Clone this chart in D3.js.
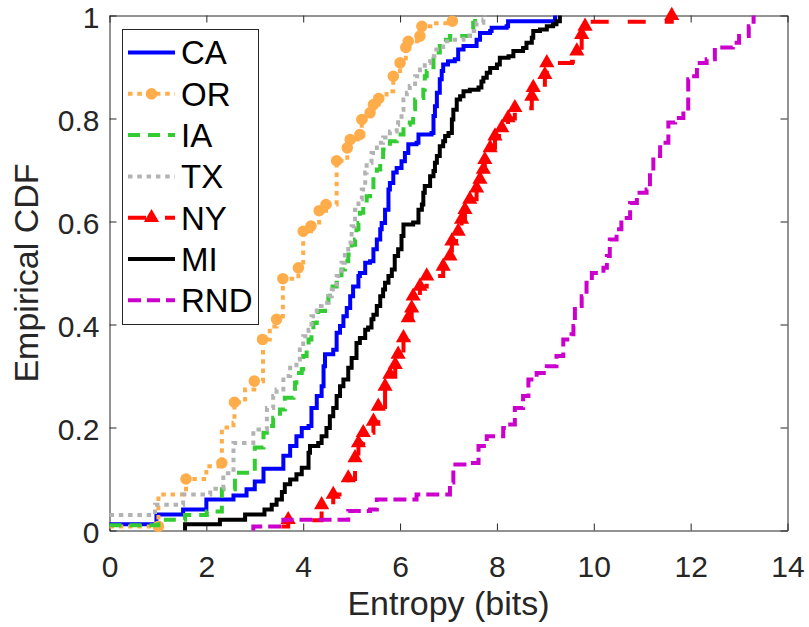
<!DOCTYPE html>
<html>
<head>
<meta charset="utf-8">
<script src="https://cdn.jsdelivr.net/npm/d3@7"></script>
<style>
  html, body { margin: 0; padding: 0; background: #ffffff; }
  svg { display: block; }
  text { font-family: "Liberation Sans", Arial, Helvetica, sans-serif; }
</style>
</head>
<body>
<svg id="chart" width="809" height="627"></svg>
<script>
// ---------------- data ----------------
const seriesNames = ["CA", "OR", "IA", "TX", "NY", "MI", "RND"];
const xTicks = [0, 2, 4, 6, 8, 10, 12, 14];
const xTickLabels = ["0", "2", "4", "6", "8", "10", "12", "14"];
const yTicks = [0, 0.2, 0.4, 0.6, 0.8, 1];
const yTickLabels = ["0", "0.2", "0.4", "0.6", "0.8", "1"];
const xLabel = "Entropy (bits)";
const yLabel = "Empirical CDF";

const caX = [0, 0.97, 0.97, 1.52, 1.52, 2.0, 2.0, 2.56, 2.56, 2.83, 3.0, 3.18, 3.59, 3.59, 3.73, 3.86, 3.97, 4.11, 4.17, 4.28, 4.38, 4.42, 4.45, 4.62, 4.69, 4.76, 4.83, 4.90, 4.97, 5.03, 5.14, 5.17, 5.28, 5.38, 5.45, 5.52, 5.59, 5.62, 5.69, 5.76, 5.76, 5.79, 5.86, 5.93, 6.03, 6.10, 6.17, 6.34, 6.38, 6.65, 6.69, 6.72, 6.76, 6.82, 6.86, 6.89, 6.99, 7.13, 7.20, 7.31, 7.51, 7.58, 7.65, 7.86, 7.89, 8.20, 8.23, 9.16, 9.20];
const caY = [0.012, 0.012, 0.031, 0.031, 0.041, 0.041, 0.06, 0.06, 0.068, 0.08, 0.095, 0.12, 0.122, 0.145, 0.164, 0.183, 0.199, 0.203, 0.238, 0.261, 0.280, 0.319, 0.342, 0.351, 0.384, 0.397, 0.416, 0.432, 0.455, 0.474, 0.494, 0.500, 0.520, 0.523, 0.546, 0.565, 0.585, 0.597, 0.623, 0.643, 0.662, 0.675, 0.695, 0.704, 0.717, 0.733, 0.750, 0.753, 0.769, 0.772, 0.805, 0.824, 0.850, 0.876, 0.892, 0.905, 0.911, 0.915, 0.934, 0.941, 0.941, 0.953, 0.966, 0.970, 0.976, 0.979, 0.989, 0.989, 1.0];

const orX = [0, 1.01, 1.01, 1.58, 1.58, 2.0, 2.0, 2.32, 2.32, 2.56, 2.58, 2.80, 2.99, 3.17, 3.17, 3.31, 3.45, 3.58, 3.58, 3.90, 4.00, 4.16, 4.33, 4.47, 4.69, 4.69, 4.91, 4.97, 5.17, 5.21, 5.38, 5.45, 5.56, 5.72, 5.86, 6.00, 6.12, 6.17, 6.41, 6.45, 6.70, 7.08, 7.10];
const orY = [0.008, 0.008, 0.07, 0.07, 0.10, 0.107, 0.125, 0.131, 0.20, 0.209, 0.249, 0.274, 0.29, 0.31, 0.371, 0.396, 0.41, 0.43, 0.489, 0.51, 0.581, 0.591, 0.621, 0.633, 0.655, 0.718, 0.743, 0.759, 0.769, 0.798, 0.811, 0.827, 0.839, 0.853, 0.882, 0.908, 0.938, 0.95, 0.96, 0.979, 0.985, 0.989, 1.0];
const orMarkX = [1.01, 1.58, 2.32, 2.58, 2.99, 3.16, 3.45, 3.58, 3.90, 4.00, 4.16, 4.33, 4.47, 4.69, 4.91, 4.97, 5.17, 5.21, 5.38, 5.45, 5.56, 5.86, 6.00, 6.12, 6.17, 6.41, 6.45, 7.08];
const orMarkY = [0.008, 0.10, 0.131, 0.249, 0.29, 0.371, 0.41, 0.489, 0.51, 0.581, 0.591, 0.621, 0.633, 0.718, 0.743, 0.759, 0.769, 0.798, 0.811, 0.827, 0.839, 0.882, 0.908, 0.938, 0.95, 0.96, 0.979, 0.989];

const iaX = [0, 1.01, 1.01, 1.56, 1.56, 2.01, 2.01, 2.32, 2.32, 2.59, 2.59, 3.0, 3.0, 3.18, 3.31, 3.38, 3.52, 3.62, 3.80, 3.83, 3.86, 3.97, 4.00, 4.07, 4.11, 4.17, 4.21, 4.28, 4.31, 4.45, 4.52, 4.55, 4.69, 4.76, 4.79, 4.86, 4.93, 5.00, 5.07, 5.10, 5.14, 5.17, 5.24, 5.31, 5.38, 5.45, 5.52, 5.59, 5.65, 5.79, 5.93, 6.07, 6.20, 6.27, 6.31, 6.45, 6.48, 6.51, 6.55, 6.69, 6.75, 6.82, 6.89, 7.03, 7.37, 7.44, 7.51, 7.55];
const iaY = [0.01, 0.01, 0.021, 0.021, 0.03, 0.03, 0.037, 0.037, 0.08, 0.08, 0.112, 0.112, 0.161, 0.19, 0.203, 0.219, 0.235, 0.258, 0.264, 0.287, 0.306, 0.313, 0.339, 0.358, 0.371, 0.384, 0.403, 0.416, 0.426, 0.436, 0.455, 0.474, 0.481, 0.487, 0.507, 0.523, 0.536, 0.555, 0.565, 0.585, 0.597, 0.617, 0.636, 0.649, 0.662, 0.688, 0.701, 0.720, 0.740, 0.756, 0.769, 0.788, 0.792, 0.818, 0.837, 0.840, 0.856, 0.882, 0.892, 0.915, 0.928, 0.941, 0.953, 0.960, 0.960, 0.970, 0.986, 1.0];

const txX = [0, 0.94, 0.94, 1.52, 1.52, 2.08, 2.08, 2.35, 2.35, 2.56, 2.56, 2.97, 2.97, 3.18, 3.25, 3.38, 3.45, 3.59, 3.73, 3.86, 3.93, 4.00, 4.11, 4.17, 4.28, 4.38, 4.52, 4.59, 4.69, 4.79, 4.86, 4.93, 5.00, 5.07, 5.14, 5.21, 5.28, 5.31, 5.41, 5.52, 5.65, 5.79, 5.93, 5.96, 6.03, 6.07, 6.14, 6.20, 6.31, 6.41, 6.51, 6.62, 6.75, 6.89, 7.03, 7.31, 7.44, 7.58, 7.72, 7.75];
const txY = [0.03, 0.03, 0.05, 0.05, 0.07, 0.07, 0.081, 0.081, 0.111, 0.111, 0.17, 0.17, 0.196, 0.196, 0.238, 0.261, 0.274, 0.300, 0.316, 0.332, 0.358, 0.377, 0.390, 0.416, 0.436, 0.442, 0.455, 0.468, 0.494, 0.520, 0.539, 0.559, 0.591, 0.623, 0.643, 0.662, 0.695, 0.714, 0.733, 0.753, 0.763, 0.775, 0.788, 0.798, 0.817, 0.837, 0.850, 0.863, 0.882, 0.895, 0.908, 0.921, 0.934, 0.950, 0.953, 0.960, 0.970, 0.986, 0.992, 1.0];

const nyX = [3.55, 3.69, 4.30, 4.38, 4.62, 4.93, 5.07, 5.14, 5.24, 5.45, 5.55, 5.69, 5.79, 5.90, 5.96, 6.07, 6.17, 6.24, 6.27, 6.41, 6.55, 6.89, 7.03, 7.07, 7.20, 7.27, 7.34, 7.44, 7.58, 7.65, 7.72, 7.75, 7.86, 7.96, 8.10, 8.23, 8.37, 8.72, 8.75, 8.99, 9.03, 9.55, 9.65, 9.75, 9.82, 9.85, 11.58, 11.61];
const nyY = [0.008, 0.02, 0.02, 0.05, 0.07, 0.10, 0.14, 0.17, 0.19, 0.21, 0.24, 0.28, 0.30, 0.32, 0.34, 0.37, 0.41, 0.43, 0.455, 0.474, 0.494, 0.513, 0.533, 0.562, 0.581, 0.604, 0.623, 0.643, 0.665, 0.682, 0.701, 0.72, 0.743, 0.766, 0.782, 0.80, 0.82, 0.843, 0.86, 0.885, 0.908, 0.91, 0.93, 0.963, 0.979, 0.988, 0.988, 1.0];
const nyMarkX = [3.69, 4.38, 4.62, 4.93, 5.07, 5.14, 5.24, 5.45, 5.55, 5.69, 5.79, 5.90, 5.96, 6.07, 6.17, 6.24, 6.27, 6.41, 6.55, 6.89, 7.03, 7.07, 7.20, 7.27, 7.34, 7.44, 7.58, 7.65, 7.72, 7.75, 7.86, 7.96, 8.10, 8.23, 8.37, 8.72, 8.75, 8.99, 9.03, 9.65, 9.75, 9.82, 11.61];
const nyMarkY = [0.021, 0.05, 0.07, 0.102, 0.141, 0.17, 0.19, 0.212, 0.241, 0.28, 0.303, 0.322, 0.342, 0.374, 0.413, 0.432, 0.455, 0.474, 0.494, 0.513, 0.533, 0.562, 0.581, 0.604, 0.623, 0.643, 0.665, 0.682, 0.701, 0.72, 0.743, 0.766, 0.782, 0.801, 0.821, 0.843, 0.86, 0.885, 0.908, 0.931, 0.963, 0.979, 1.0];

const miX = [1.56, 1.56, 2.28, 2.28, 2.80, 2.80, 3.20, 3.20, 3.35, 3.45, 3.56, 3.62, 3.73, 3.86, 3.97, 4.11, 4.14, 4.31, 4.38, 4.48, 4.55, 4.62, 4.69, 4.76, 4.83, 4.93, 5.00, 5.10, 5.17, 5.28, 5.34, 5.41, 5.45, 5.52, 5.59, 5.65, 5.69, 5.76, 5.83, 5.89, 5.96, 6.03, 6.07, 6.27, 6.38, 6.45, 6.48, 6.51, 6.62, 6.69, 6.72, 6.76, 6.82, 6.89, 6.93, 7.00, 7.07, 7.10, 7.17, 7.24, 7.31, 7.44, 7.62, 7.68, 7.72, 7.79, 7.86, 8.00, 8.06, 8.24, 8.34, 8.54, 8.61, 8.72, 8.75, 8.89, 9.03, 9.16, 9.23, 9.30];
const miY = [0, 0.012, 0.012, 0.021, 0.021, 0.031, 0.031, 0.041, 0.05, 0.06, 0.075, 0.09, 0.099, 0.109, 0.122, 0.151, 0.164, 0.170, 0.183, 0.199, 0.222, 0.238, 0.261, 0.280, 0.293, 0.316, 0.335, 0.364, 0.374, 0.390, 0.394, 0.410, 0.419, 0.436, 0.455, 0.468, 0.481, 0.494, 0.507, 0.533, 0.546, 0.572, 0.594, 0.598, 0.623, 0.633, 0.656, 0.669, 0.688, 0.698, 0.714, 0.727, 0.746, 0.756, 0.766, 0.772, 0.798, 0.817, 0.837, 0.843, 0.853, 0.856, 0.860, 0.872, 0.879, 0.889, 0.898, 0.905, 0.918, 0.921, 0.931, 0.937, 0.947, 0.957, 0.970, 0.973, 0.979, 0.983, 0.989, 1.0];

const rndX = [2.97, 2.97, 3.59, 3.59, 4.69, 4.93, 5.38, 5.52, 6.27, 6.34, 6.86, 7.03, 7.10, 7.44, 7.62, 7.79, 8.13, 8.23, 8.37, 8.54, 8.65, 8.82, 9.03, 9.23, 9.37, 9.54, 9.58, 9.61, 9.75, 9.85, 9.96, 10.20, 10.27, 10.33, 10.47, 10.57, 10.75, 10.89, 11.09, 11.16, 11.23, 11.37, 11.54, 11.68, 11.85, 11.95, 11.99, 12.13, 12.33, 12.50, 12.74, 12.87, 13.00, 13.20, 13.30];
const rndY = [0, 0.008, 0.008, 0.021, 0.021, 0.038, 0.041, 0.06, 0.06, 0.07, 0.07, 0.093, 0.128, 0.131, 0.164, 0.183, 0.199, 0.206, 0.238, 0.261, 0.293, 0.306, 0.319, 0.339, 0.371, 0.381, 0.397, 0.436, 0.455, 0.481, 0.500, 0.510, 0.533, 0.565, 0.585, 0.607, 0.636, 0.656, 0.662, 0.695, 0.727, 0.753, 0.792, 0.801, 0.814, 0.876, 0.882, 0.908, 0.915, 0.938, 0.938, 0.947, 0.960, 0.979, 1.0];

// ---------------- styles ----------------
const seriesStyles = {
  CA:  { color: "#0000ff", dash: null,    marker: null },
  OR:  { color: "#ffad4a", dash: "4.5,4.8", marker: "circle" },
  IA:  { color: "#33cc33", dash: "12,8",  marker: null },
  TX:  { color: "#b3b3b3", dash: "4.5,4.8", marker: null },
  NY:  { color: "#ff0000", dash: "18,19", marker: "triangle" },
  MI:  { color: "#000000", dash: null,    marker: null },
  RND: { color: "#cc00cc", dash: "13,6",  marker: null }
};
const seriesData = {
  CA: { xs: caX, ys: caY },
  OR: { xs: orX, ys: orY, mx: orMarkX, my: orMarkY },
  IA: { xs: iaX, ys: iaY },
  TX: { xs: txX, ys: txY },
  NY: { xs: nyX, ys: nyY, mx: nyMarkX, my: nyMarkY },
  MI: { xs: miX, ys: miY },
  RND: { xs: rndX, ys: rndY }
};

const W = 809, H = 627;
const L = 109.5, R = 787.5, T = 15.5, B = 530.5;
const axisColor = "#262626";
const lineW = 4;

const svg = d3.select("#chart");
svg.append("rect").attr("width", W).attr("height", H).attr("fill", "#fff");

const x = d3.scaleLinear().domain([0, 14]).range([L, R]);
const y = d3.scaleLinear().domain([0, 1]).range([B, T]);

svg.append("rect").attr("x", L).attr("y", T).attr("width", R - L).attr("height", B - T).attr("fill", "#fff");

function styleAxis(g) {
  g.attr("font-family", null).attr("font-size", null);
  g.selectAll("path.domain").attr("stroke", axisColor).attr("stroke-width", 1);
  g.selectAll(".tick line").attr("stroke", axisColor).attr("stroke-width", 1);
  g.selectAll(".tick text").attr("fill", axisColor).style("font-size", "30px")
    .style("font-family", "'Liberation Sans', Arial, sans-serif");
}
svg.append("g").attr("transform", `translate(0,${B})`)
  .call(d3.axisBottom(x).tickValues(xTicks).tickSizeInner(-7).tickSizeOuter(0).tickPadding(25)
    .tickFormat((d, i) => xTickLabels[i]))
  .call(styleAxis);
svg.append("g").attr("transform", `translate(0,${T})`)
  .call(d3.axisTop(x).tickValues(xTicks).tickSizeInner(-7).tickSizeOuter(0).tickFormat(""))
  .call(styleAxis);
svg.append("g").attr("transform", `translate(${L},0)`)
  .call(d3.axisLeft(y).tickValues(yTicks).tickSizeInner(-7).tickSizeOuter(0).tickPadding(10)
    .tickFormat((d, i) => yTickLabels[i]))
  .call(styleAxis)
  .call(g => g.selectAll(".tick text").attr("y", 2.5));
svg.append("g").attr("transform", `translate(${R},0)`)
  .call(d3.axisRight(y).tickValues(yTicks).tickSizeInner(-7).tickSizeOuter(0).tickFormat(""))
  .call(styleAxis);

svg.append("text").attr("x", (L + R) / 2).attr("y", 615).attr("text-anchor", "middle")
  .attr("fill", axisColor).style("font-size", "34px").text(xLabel);
svg.append("text").attr("transform", `translate(38,${(T + B) / 2}) rotate(-90)`).attr("text-anchor", "middle")
  .attr("fill", axisColor).style("font-size", "34px").text(yLabel);

const line = d3.line().x(d => x(d[0])).y(d => y(d[1])).curve(d3.curveStepAfter);
const triangle = d3.symbol().type(d3.symbolTriangle).size(100);
const circle = d3.symbol().type(d3.symbolCircle).size(105);

seriesNames.forEach(name => {
  const st = seriesStyles[name];
  const sd = seriesData[name];
  const pts = sd.xs.map((v, i) => [v, sd.ys[i]]);
  svg.append("path").datum(pts)
    .attr("d", line)
    .attr("fill", "none")
    .attr("stroke", st.color)
    .attr("stroke-width", lineW)
    .attr("stroke-linejoin", "miter")
    .attr("stroke-dasharray", st.dash);
  if (st.marker) {
    const mpts = sd.mx.map((v, i) => [v, sd.my[i]]);
    svg.append("g").selectAll("path").data(mpts).join("path")
      .attr("transform", d => `translate(${x(d[0])},${y(d[1])})`)
      .attr("d", st.marker === "circle" ? circle : triangle)
      .attr("fill", st.color);
  }
});

const lg = svg.append("g");
lg.append("rect").attr("x", 122.5).attr("y", 29.5).attr("width", 136).attr("height", 295)
  .attr("fill", "#fff").attr("stroke", axisColor).attr("stroke-width", 1);
seriesNames.forEach((name, i) => {
  const st = seriesStyles[name];
  const cy = 52.5 + i * 41.3;
  lg.append("line").attr("x1", 128).attr("x2", 175).attr("y1", cy).attr("y2", cy)
    .attr("stroke", st.color).attr("stroke-width", lineW).attr("stroke-dasharray", st.dash);
  if (st.marker) {
    lg.append("path").attr("transform", `translate(151.5,${cy})`)
      .attr("d", st.marker === "circle" ? circle : triangle).attr("fill", st.color);
  }
  lg.append("text").attr("x", 181).attr("y", cy + 11.8).attr("fill", "#000")
    .style("font-size", "33px").text(name);
});
</script>
</body>
</html>
